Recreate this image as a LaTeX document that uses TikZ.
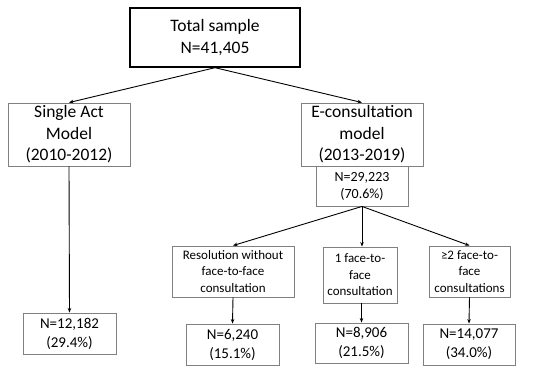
\documentclass[tikz,border=0pt]{standalone}
\usepackage{fontspec}
\setmainfont{Carlito}
\usepackage{tikz}
\usetikzlibrary{positioning,arrows.meta}
\definecolor{boxgray}{RGB}{128,128,128}
\tikzset{
  box/.style={draw=boxgray,line width=0.9pt,fill=white,align=center,inner sep=0pt},
  bigtxt/.style={font=\fontsize{17.5}{21.5}\selectfont},
  midtxt/.style={font=\fontsize{14}{17}\selectfont},
  smalltxt/.style={font=\fontsize{13}{16.5}\selectfont},
  ntxt/.style={font=\fontsize{15}{19}\selectfont},
}
\begin{document}
\begin{tikzpicture}[>={Stealth[length=4.5pt,width=3.5pt]},x=1pt,y=1pt,line width=0.9pt]
  \useasboundingbox (0,0) rectangle (550,-374);
  \node[box,bigtxt,draw=black,line width=1.4pt,minimum width=170pt,minimum height=59pt]
    (total) at (215,-37.5) {Total sample\\N=41,405};
  \node[box,bigtxt,minimum width=122pt,minimum height=63pt]
    (single) at (69,-134.5) {Single Act\\Model\\(2010-2012)};
  \node[box,bigtxt,minimum width=122pt,minimum height=63pt]
    (econs) at (362,-134.5) {E-consultation\\model\\(2013-2019)};
  \node[box,midtxt,minimum width=92pt,minimum height=40pt]
    (econsN) at (362,-186) {N=29,223\\(70.6\%)};
  \node[box,ntxt,minimum width=93pt,minimum height=41pt]
    (singleN) at (69.5,-333.5) {N=12,182\\(29.4\%)};
  \node[box,smalltxt,minimum width=122pt,minimum height=51pt]
    (resol) at (233,-271.5) {Resolution without\\face-to-face\\consultation};
  \node[box,smalltxt,minimum width=74pt,minimum height=56pt]
    (one) at (360,-275) {1 face-to-\\face\\consultation};
  \node[box,smalltxt,minimum width=81pt,minimum height=51pt]
    (two) at (469.5,-271.5) {≥2 face-to-\\face\\consultations};
  \node[box,ntxt,minimum width=93pt,minimum height=41pt]
    (resolN) at (232.5,-344.5) {N=6,240\\(15.1\%)};
  \node[box,ntxt,minimum width=93pt,minimum height=40pt]
    (oneN) at (361.5,-343) {N=8,906\\(21.5\%)};
  \node[box,ntxt,minimum width=92pt,minimum height=41pt]
    (twoN) at (469,-344.5) {N=14,077\\(34.0\%)};
  \path[->]
    (total.south) edge (single.north)
    (total.south) edge (econs.north)
    (single.south) edge (singleN.north)
    (econsN.south) edge (resol.north)
    (econsN.south) edge (econsN.south |- one.north)
    (econsN.south) edge (two.north)
    (resol.south) edge (resolN.north)
    (oneN.north |- one.south) edge (oneN.north)
    (two.south) edge (twoN.north);
\end{tikzpicture}
\end{document}
